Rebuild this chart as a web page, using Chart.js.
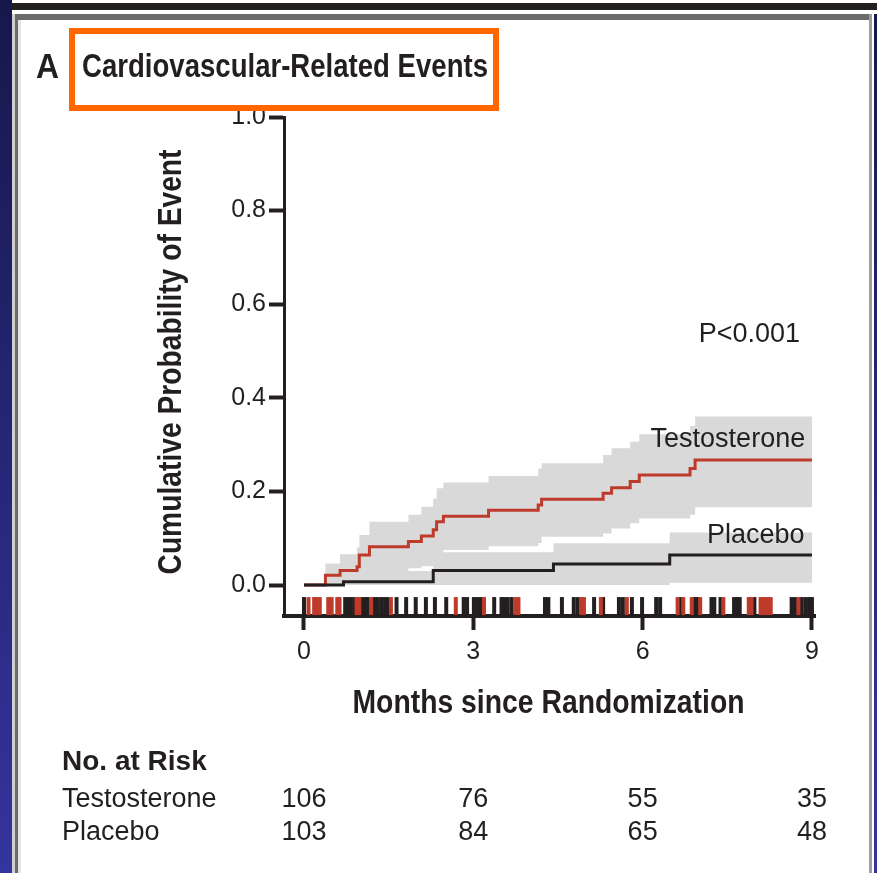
<!DOCTYPE html>
<html>
<head>
<meta charset="utf-8">
<script src="https://cdn.jsdelivr.net/npm/chart.js@4.4.0/dist/chart.umd.min.js"></script>
<style>
html,body{margin:0;padding:0;}
body{width:877px;height:873px;overflow:hidden;position:relative;background:linear-gradient(#17174c,#34349e);}
.abs{position:absolute;}
#sheet{left:12px;top:0;width:862px;height:873px;background:#fff;}
#topwhite{left:12px;top:0;width:865px;height:14px;background:#fff;}
#topbar{left:12px;top:3px;width:865px;height:7px;background:#231f20;}
#l1{left:12px;top:14px;width:3px;height:859px;background:#cfcfcf;}
#l2{left:15px;top:14px;width:3px;height:859px;background:#6b6b6b;}
#l3{left:18px;top:20px;width:3px;height:853px;background:#e4e4e4;}
#t1{left:15px;top:14px;width:857px;height:6px;background:#6b6b6b;}
#r1{left:869px;top:14px;width:3px;height:859px;background:#9d9d9d;}
canvas{position:absolute;left:0;top:0;}
</style>
</head>
<body>
<div class="abs" id="sheet"></div>
<div class="abs" id="topwhite"></div>
<div class="abs" id="topbar"></div>
<div class="abs" id="l1"></div>
<div class="abs" id="l2"></div>
<div class="abs" id="l3"></div>
<div class="abs" id="t1"></div>
<div class="abs" id="r1"></div>
<canvas id="c" width="877" height="873"></canvas>
<script>
// ---------- data ----------
const xTickMonths = [0, 3, 6, 9];
const yTickValues = [0, 0.2, 0.4, 0.6, 0.8, 1.0];

const testoTime  = [0, 0.38, 0.64, 0.94, 0.98, 1.16, 1.85, 2.08, 2.29, 2.35, 2.47, 3.27, 4.15, 4.21, 5.30, 5.45, 5.78, 5.94, 6.84, 6.93, 9.0];
const testoCum   = [0, 0.021, 0.031, 0.039, 0.064, 0.082, 0.093, 0.105, 0.118, 0.135, 0.147, 0.160, 0.171, 0.183, 0.196, 0.208, 0.221, 0.235, 0.249, 0.267, 0.267];
const testoUpper = [0, 0.046, 0.066, 0.080, 0.107, 0.135, 0.150, 0.167, 0.185, 0.207, 0.219, 0.233, 0.249, 0.260, 0.278, 0.292, 0.306, 0.322, 0.340, 0.360, 0.360];
const testoLower = [0, 0.000, 0.002, 0.004, 0.012, 0.025, 0.036, 0.040, 0.050, 0.062, 0.075, 0.083, 0.090, 0.103, 0.110, 0.121, 0.132, 0.142, 0.150, 0.166, 0.166];

const placeboTime  = [0, 0.70, 2.29, 4.42, 6.48, 9.0];
const placeboCum   = [0, 0.007, 0.031, 0.045, 0.064, 0.064];
const placeboUpper = [0, 0.030, 0.070, 0.089, 0.112, 0.112];
const placeboLower = [0, 0.000, 0.000, 0.000, 0.005, 0.005];

const testoCensor = [0.08, 0.18, 0.23, 0.28, 0.43, 0.49, 0.59, 0.63, 0.93, 0.98, 1.19, 1.54, 2.69, 3.19, 3.75, 3.80, 4.92, 4.96, 5.26, 5.72, 6.62, 6.72, 6.87, 7.02, 7.43, 7.88, 7.93, 8.09, 8.15, 8.21, 8.27, 8.76];
const placeboCensor = [0.0, 0.73, 0.78, 0.83, 0.89, 1.03, 1.09, 1.13, 1.25, 1.31, 1.38, 1.44, 1.49, 1.64, 1.81, 1.98, 2.16, 2.32, 2.52, 2.83, 2.89, 3.01, 3.07, 3.13, 3.37, 3.50, 3.55, 3.61, 3.68, 4.27, 4.33, 4.57, 4.78, 4.85, 5.14, 5.30, 5.58, 5.65, 5.81, 5.99, 6.24, 6.31, 6.67, 6.92, 6.97, 7.22, 7.27, 7.38, 7.62, 7.67, 7.72, 7.98, 8.64, 8.70, 8.82, 8.89, 8.95, 9.0];

const riskMonths  = [0, 3, 6, 9];
const riskTesto   = [106, 76, 55, 35];
const riskPlacebo = [103, 84, 65, 48];

// ---------- styling ----------
const INK = '#231f20';
const RED = '#be3a2b';
const BAND = '#d9d9d9';
const REG = "'Liberation Sans', Arial, sans-serif";
const CENSOR_LEVEL = -0.045;

const pts = (t, v) => t.map((x, i) => ({x: x, y: v[i]}));
const cens = t => t.map(x => ({x: x, y: CENSOR_LEVEL}));
const none = 'rgba(0,0,0,0)';

// draws text condensed horizontally so that it spans the wanted width
function fitted(ctx, text, x, y, width, align, rot) {
  const w = ctx.measureText(text).width;
  const sx = Math.min(1, width / w);
  ctx.save();
  ctx.translate(x, y);
  if (rot) ctx.rotate(rot);
  ctx.scale(sx, 1);
  ctx.textAlign = align;
  ctx.fillText(text, 0, 0);
  ctx.restore();
}

const annot = {
  id: 'annot',
  afterDraw(chart) {
    const {ctx, scales: {x, y}, chartArea} = chart;
    ctx.save();
    ctx.fillStyle = INK;
    ctx.textBaseline = 'alphabetic';
    ctx.font = `27px ${REG}`;
    ctx.textAlign = 'right';
    ctx.fillText('P<0.001', x.getPixelForValue(8.79), y.getPixelForValue(0.519));
    ctx.fillText('Testosterone', x.getPixelForValue(8.88), y.getPixelForValue(0.295));
    ctx.fillText('Placebo', x.getPixelForValue(8.87), y.getPixelForValue(0.089));

    // axis titles (condensed face)
    ctx.font = `bold 33px ${REG}`;
    fitted(ctx, 'Months since Randomization', (chartArea.left + chartArea.right) / 2 - 1, 713, 392, 'center', 0);
    fitted(ctx, 'Cumulative Probability of Event', 181, 362, 425, 'center', -Math.PI / 2);

    // number at risk table
    ctx.textAlign = 'left';
    ctx.font = `bold 28px ${REG}`;
    ctx.fillText('No. at Risk', 62, 770);
    ctx.font = `27px ${REG}`;
    ctx.fillText('Testosterone', 62, 807);
    ctx.fillText('Placebo', 62, 840);
    ctx.textAlign = 'center';
    riskMonths.forEach((m, i) => {
      const px = x.getPixelForValue(m);
      ctx.fillText(String(riskTesto[i]), px, 807);
      ctx.fillText(String(riskPlacebo[i]), px, 840);
    });

    // panel title
    ctx.font = `bold 35px ${REG}`;
    fitted(ctx, 'A', 36, 78, 23, 'left', 0);
    ctx.font = `bold 33px ${REG}`;
    fitted(ctx, 'Cardiovascular-Related Events', 82, 77, 406, 'left', 0);
    ctx.strokeStyle = '#ff6600';
    ctx.lineWidth = 6;
    ctx.strokeRect(72, 31, 424, 77);
    ctx.restore();
  }
};

new Chart(document.getElementById('c'), {
  type: 'line',
  data: {
    datasets: [
      {label: 'Placebo', data: pts(placeboTime, placeboCum), borderColor: INK, borderWidth: 3, stepped: true, pointRadius: 0, fill: false},
      {label: 'Testosterone', data: pts(testoTime, testoCum), borderColor: RED, borderWidth: 3, stepped: true, pointRadius: 0, fill: false},
      {type: 'scatter', label: 'Testosterone censored', data: cens(testoCensor), pointStyle: 'line', rotation: 90, pointRadius: 9, pointBorderWidth: 4, borderColor: RED, pointBorderColor: RED, showLine: false},
      {type: 'scatter', label: 'Placebo censored', data: cens(placeboCensor), pointStyle: 'line', rotation: 90, pointRadius: 9, pointBorderWidth: 4, borderColor: INK, pointBorderColor: INK, showLine: false},
      {label: 'T upper', data: pts(testoTime, testoUpper), borderColor: none, borderWidth: 0, backgroundColor: BAND, stepped: true, pointRadius: 0, fill: '+1'},
      {label: 'T lower', data: pts(testoTime, testoLower), borderColor: none, borderWidth: 0, stepped: true, pointRadius: 0, fill: false},
      {label: 'P upper', data: pts(placeboTime, placeboUpper), borderColor: none, borderWidth: 0, backgroundColor: BAND, stepped: true, pointRadius: 0, fill: '+1'},
      {label: 'P lower', data: pts(placeboTime, placeboLower), borderColor: none, borderWidth: 0, stepped: true, pointRadius: 0, fill: false}
    ]
  },
  options: {
    responsive: false,
    animation: false,
    events: [],
    layout: {padding: {left: 0, top: 117, right: 62, bottom: 0}},
    plugins: {
      legend: {display: false},
      tooltip: {enabled: false},
      filler: {drawTime: 'beforeDatasetsDraw'}
    },
    scales: {
      x: {
        type: 'linear', min: -0.354, max: 9.054,
        afterBuildTicks: s => { s.ticks = xTickMonths.map(v => ({value: v})); },
        afterFit: s => { s.height = 873 - 616; },
        border: {display: true, color: INK, width: 4},
        grid: {display: true, drawOnChartArea: false, drawTicks: true, tickLength: 14, tickWidth: 4, tickColor: INK, color: INK},
        ticks: {autoSkip: false, maxRotation: 0, padding: 7, color: INK, font: {family: REG, size: 25}, callback: v => String(v)},
        title: {display: false, text: 'Months since Randomization'}
      },
      y: {
        type: 'linear', min: -0.0662, max: 1.0,
        afterBuildTicks: s => { s.ticks = yTickValues.map(v => ({value: v})); },
        afterFit: s => { s.width = 284; },
        border: {display: true, color: INK, width: 3},
        grid: {display: true, drawOnChartArea: false, drawTicks: true, tickLength: 15, tickWidth: 4, tickColor: INK, color: INK},
        ticks: {padding: 3, color: INK, font: {family: REG, size: 25}, callback: v => v.toFixed(1)},
        title: {display: false, text: 'Cumulative Probability of Event'}
      }
    }
  },
  plugins: [annot]
});
</script>
</body>
</html>
